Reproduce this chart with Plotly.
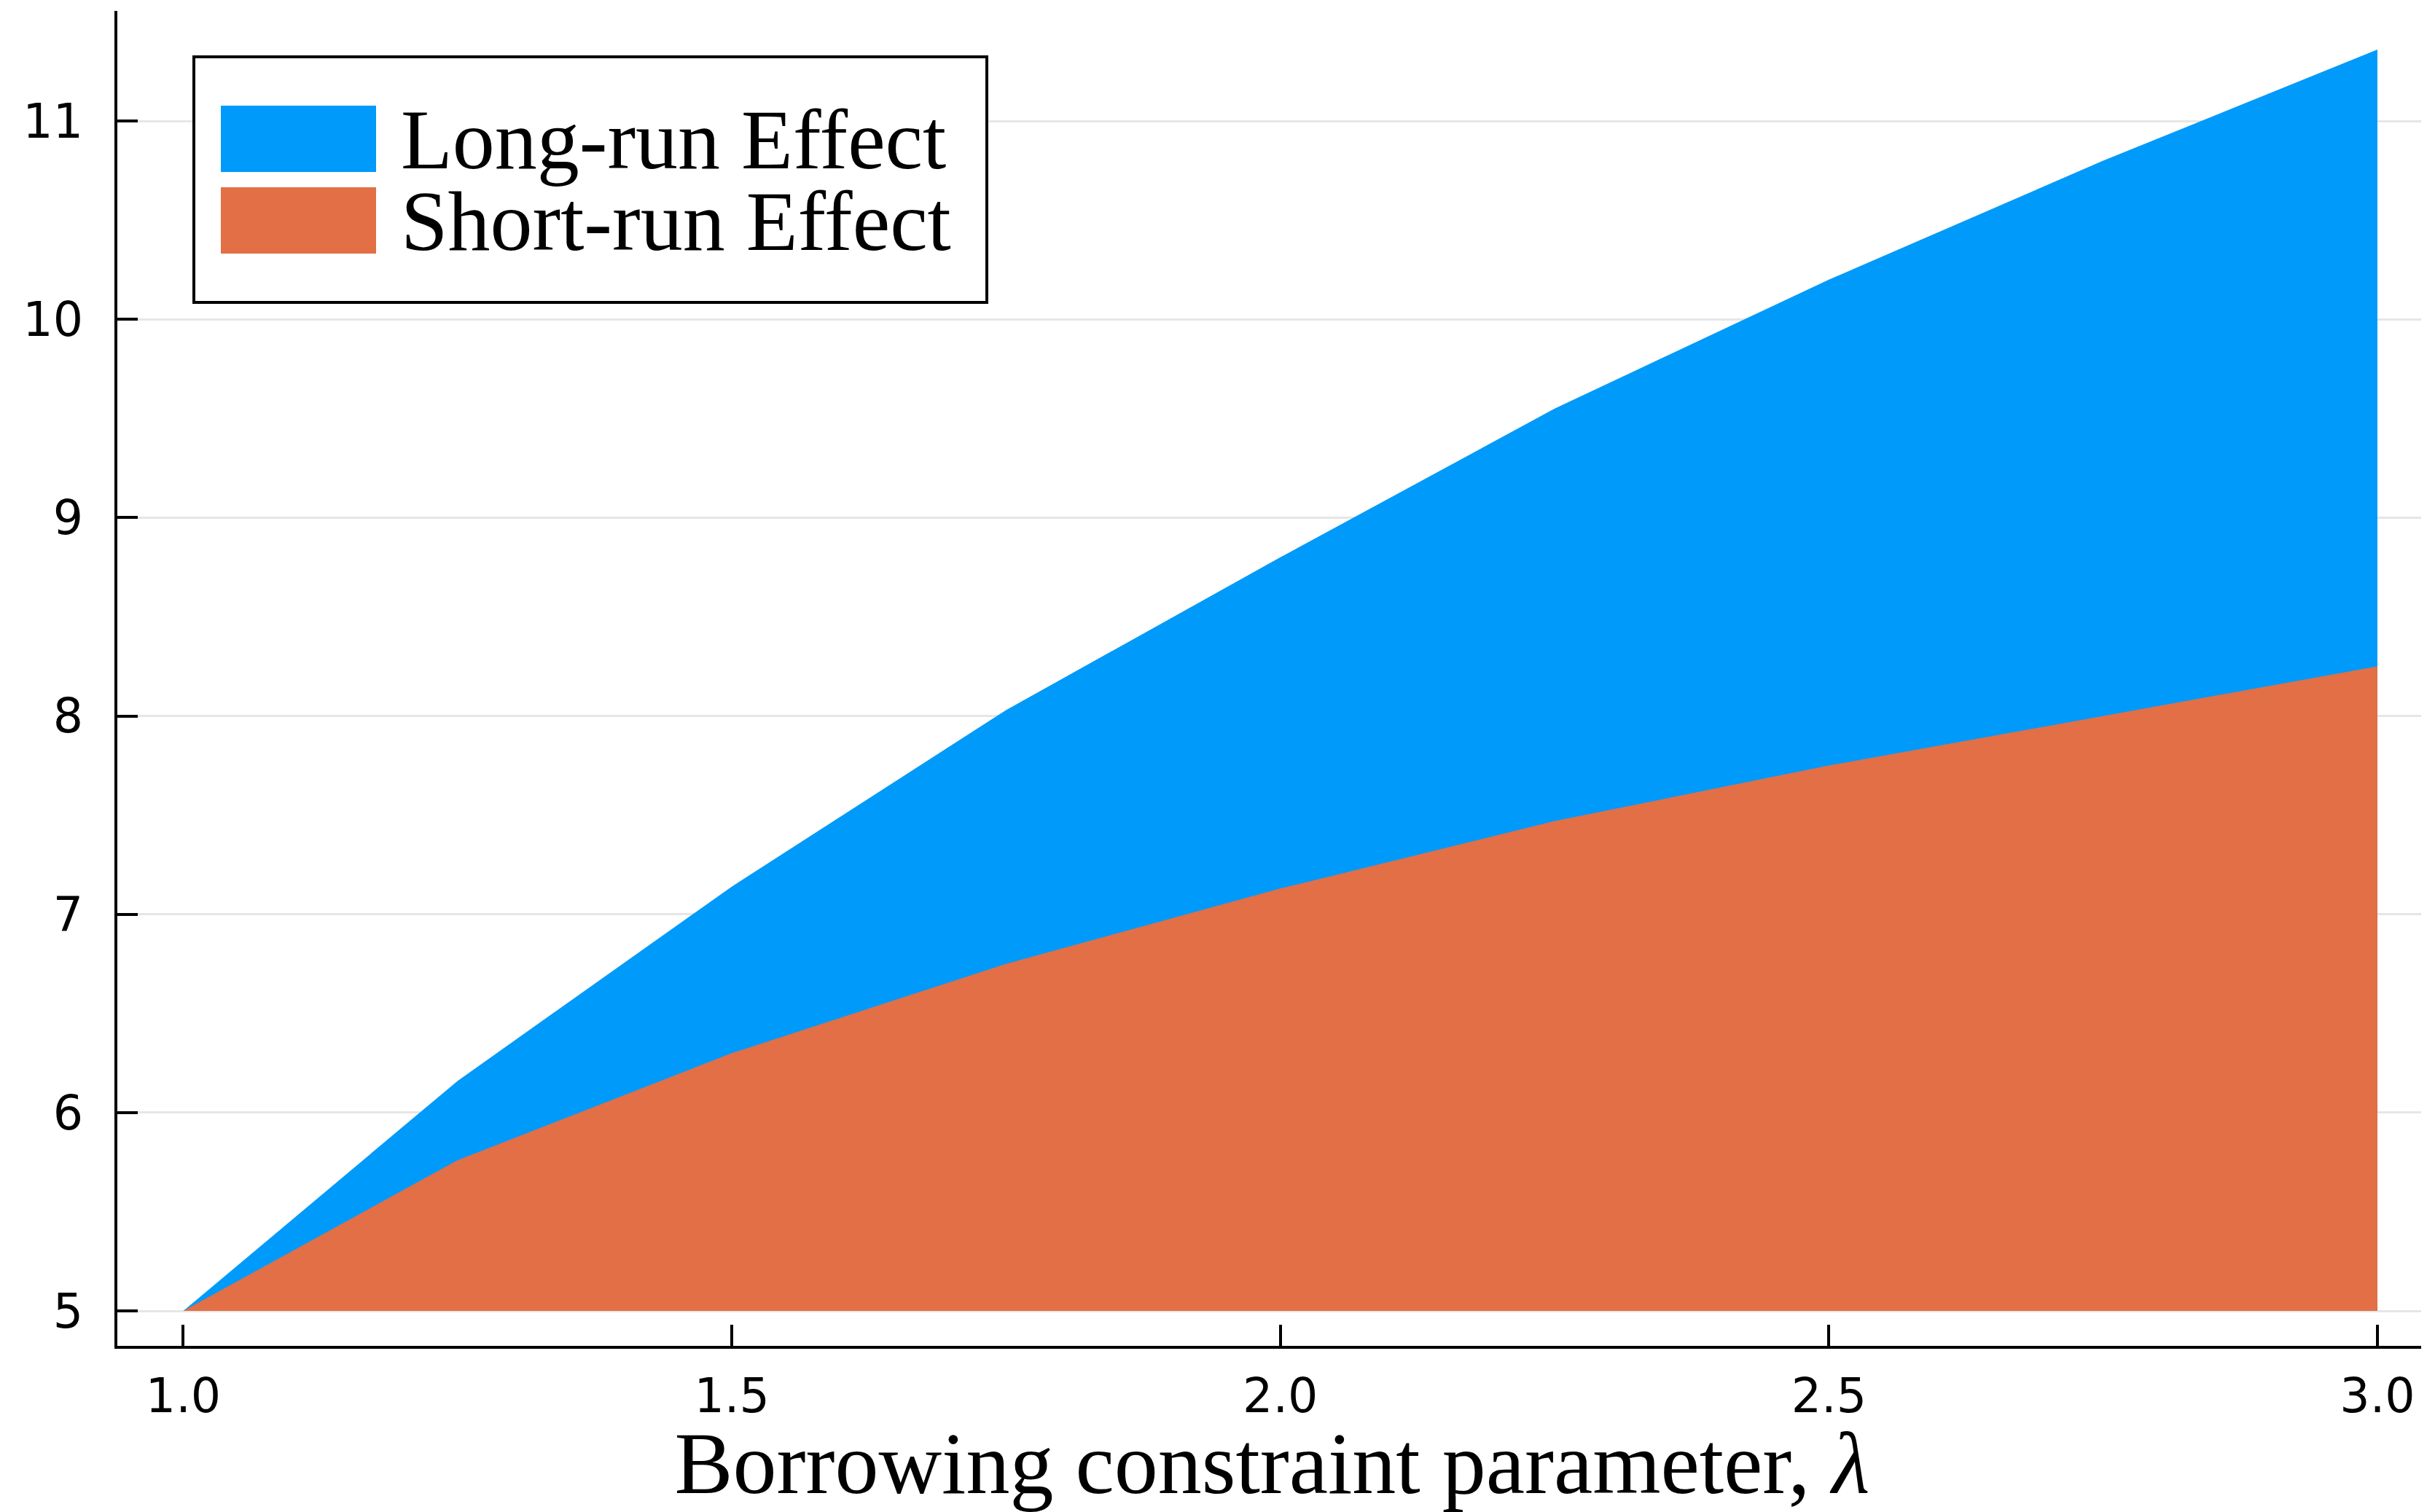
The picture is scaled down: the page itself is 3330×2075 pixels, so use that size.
import plotly.graph_objects as go

# ---- data ----
lam = [1.0, 1.25, 1.5, 1.75, 2.0, 2.25, 2.5, 2.75, 3.0]
long_run = [5.0, 6.16, 7.14, 8.03, 8.80, 9.55, 10.20, 10.80, 11.36]
short_run = [5.0, 5.76, 6.30, 6.75, 7.13, 7.47, 7.75, 8.00, 8.25]
fill_base = 5.0
series_names = ["Long-run Effect", "Short-run Effect"]
series_colors = ["#009AFA", "#E26F46"]
y_ticks = [5, 6, 7, 8, 9, 10, 11]
x_ticks = [1.0, 1.5, 2.0, 2.5, 3.0]
x_tick_text = ["1.0", "1.5", "2.0", "2.5", "3.0"]
x_title = "Borrowing constraint parameter, <i>λ</i>"

OFF = 8  # page body margin
W, H = 3322, 2067
ML, MR, MT, MB = 153, 0, 7, 228
PW, PH = W - ML - MR, H - MT - MB
PLOT_LEFT = OFF + ML
PLOT_BOTTOM = OFF + H - MB

def px(x):
    return (x - PLOT_LEFT) / PW

def py(y):
    return (PLOT_BOTTOM - y) / PH

fig = go.Figure()
for name, vals, col in zip(series_names, [long_run, short_run], series_colors):
    fig.add_trace(go.Scatter(x=lam, y=[fill_base] * len(lam), mode="lines",
                             line=dict(width=0), hoverinfo="skip", showlegend=False))
    fig.add_trace(go.Scatter(x=lam, y=vals, mode="lines", name=name,
                             line=dict(width=0, color=col), fill="tonexty",
                             fillcolor=col, showlegend=False))

# ---- manual legend (Plots.jl style) ----
shapes = [dict(type="rect", xref="paper", yref="paper",
               x0=px(266), x1=px(1354), y0=py(415), y1=py(78),
               line=dict(color="black", width=4), fillcolor="white", layer="above")]
annotations = []
rows = [(145, 236), (257, 348)]
for (t, b), name, col in zip(rows, series_names, series_colors):
    shapes.append(dict(type="rect", xref="paper", yref="paper",
                       x0=px(303), x1=px(516), y0=py(b), y1=py(t),
                       line=dict(width=0), fillcolor=col, layer="above"))
    annotations.append(dict(text=name, xref="paper", yref="paper",
                            x=px(548), y=py((t + b) / 2 + 1), xanchor="left",
                            yanchor="middle", showarrow=False,
                            font=dict(family="Liberation Serif", size=116, color="black")))

fig.update_layout(
    width=W, height=H,
    margin=dict(l=ML, r=MR, t=MT, b=MB, autoexpand=False),
    paper_bgcolor="white", plot_bgcolor="white",
    showlegend=False,
    shapes=shapes, annotations=annotations,
    font=dict(family="DejaVu Sans", color="black"),
)
fig.update_xaxes(
    range=[0.9399, 3.0452], tickvals=x_ticks, ticktext=x_tick_text,
    ticks="inside", ticklen=29, tickwidth=4, tickcolor="black",
    showline=True, linecolor="black", linewidth=4,
    showgrid=False, zeroline=False,
    tickfont=dict(family="DejaVu Sans", size=65, color="black"),
    ticklabelstandoff=9,
    title=dict(text=x_title, font=dict(family="Liberation Serif", size=120, color="black"),
               standoff=43),
)
fig.update_yaxes(
    range=[4.824, 11.555], tickvals=y_ticks,
    ticks="inside", ticklen=28, tickwidth=4, tickcolor="black",
    showline=True, linecolor="black", linewidth=4,
    showgrid=True, gridcolor="#e6e6e6", gridwidth=2.5, zeroline=False,
    tickfont=dict(family="DejaVu Sans", size=65, color="black"),
    ticklabelstandoff=30,
)

fig.write_html("out.html")
